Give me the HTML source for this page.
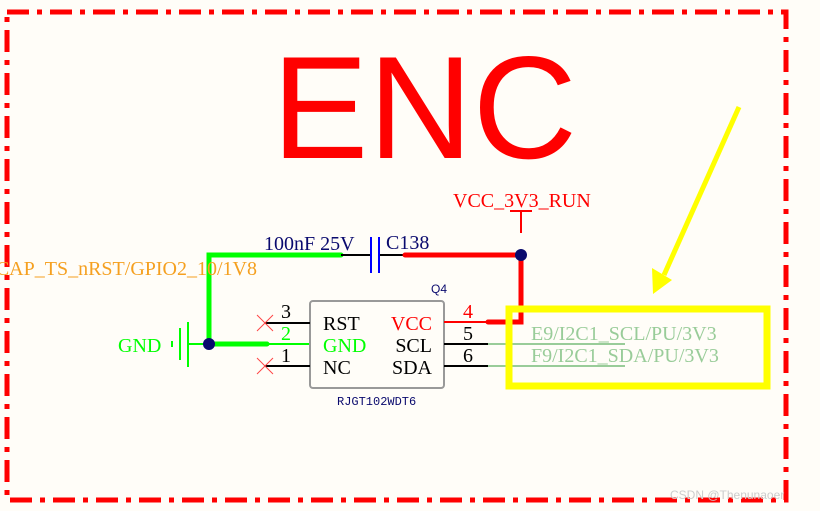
<!DOCTYPE html>
<html><head><meta charset="utf-8"><style>body{margin:0;background:#fffdf8}svg{display:block}</style></head>
<body>
<svg width="820" height="511" xmlns="http://www.w3.org/2000/svg" font-family="Liberation Serif, serif">
<rect width="820" height="511" fill="#fffdf8"/>
<rect x="7" y="12" width="779" height="488" fill="none" stroke="#f00" stroke-width="5" stroke-dasharray="22 8 5 8"/>
<text x="272" y="158" font-family="Liberation Sans, sans-serif" font-size="146" fill="#f00" textLength="305" lengthAdjust="spacingAndGlyphs">ENC</text>
<line x1="739" y1="107" x2="664" y2="275" stroke="#ff0" stroke-width="5"/>
<polygon points="653,294 652,268 672,280" fill="#ff0"/>
<polyline points="341,255 209,255 209,344 267,344" fill="none" stroke="#0f0" stroke-width="5" stroke-linecap="round"/>
<line x1="267" y1="344" x2="310" y2="344" stroke="#0f0" stroke-width="2"/>
<line x1="188" y1="344" x2="209" y2="344" stroke="#0f0" stroke-width="2"/>
<line x1="188" y1="322" x2="188" y2="367" stroke="#0f0" stroke-width="2"/>
<line x1="180" y1="328" x2="180" y2="360" stroke="#0f0" stroke-width="2"/>
<line x1="172" y1="341" x2="172" y2="347" stroke="#0f0" stroke-width="2"/>
<text x="118" y="352" font-size="20" fill="#0f0">GND</text>
<circle cx="209" cy="344" r="6" fill="#0a0a6e"/>
<line x1="341" y1="255" x2="371" y2="255" stroke="#000" stroke-width="2"/>
<line x1="379" y1="255" x2="405" y2="255" stroke="#000" stroke-width="2"/>
<line x1="371" y1="237" x2="371" y2="273" stroke="#00f" stroke-width="2"/>
<line x1="379" y1="237" x2="379" y2="273" stroke="#00f" stroke-width="2"/>
<text x="264" y="250" font-size="20" fill="#0a0a6e">100nF 25V</text>
<text x="386" y="249" font-size="20" fill="#0a0a6e">C138</text>
<polyline points="405,255 521,255 521,322 488,322" fill="none" stroke="#f00" stroke-width="5" stroke-linecap="round"/>
<line x1="521" y1="211" x2="521" y2="233" stroke="#f00" stroke-width="2"/>
<line x1="510" y1="211" x2="532" y2="211" stroke="#f00" stroke-width="2"/>
<text x="453" y="207" font-size="20" fill="#f00">VCC_3V3_RUN</text>
<circle cx="521" cy="255" r="6" fill="#0a0a6e"/>
<text x="257" y="275" font-size="20" fill="#f5a020" text-anchor="end">CAP_TS_nRST/GPIO2_10/1V8</text>
<rect x="310" y="301" width="134" height="87" rx="3" fill="#fffdf8" stroke="#999" stroke-width="2"/>
<text x="431" y="293" font-family="Liberation Sans, sans-serif" font-size="12" fill="#0a0a6e">Q4</text>
<text x="337" y="405" font-family="Liberation Mono, monospace" font-size="12" fill="#0a0a6e">RJGT102WDT6</text>
<line x1="265" y1="323" x2="310" y2="323" stroke="#000" stroke-width="2"/>
<line x1="265" y1="366" x2="310" y2="366" stroke="#000" stroke-width="2"/>
<g stroke="#f44" stroke-width="1">
<line x1="257" y1="315" x2="273" y2="331"/><line x1="257" y1="331" x2="273" y2="315"/>
<line x1="257" y1="358" x2="273" y2="374"/><line x1="257" y1="374" x2="273" y2="358"/>
</g>
<g font-size="20">
<text x="281" y="318">3</text><text x="281" y="340" fill="#0f0">2</text><text x="281" y="362">1</text>
<text x="323" y="330">RST</text><text x="323" y="352" fill="#0f0">GND</text><text x="323" y="374">NC</text>
<text x="432" y="330" fill="#f00" text-anchor="end">VCC</text><text x="432" y="352" text-anchor="end">SCL</text><text x="432" y="374" text-anchor="end">SDA</text>
<text x="463" y="318" fill="#f00">4</text><text x="463" y="340">5</text><text x="463" y="362">6</text>
</g>
<line x1="444" y1="322" x2="488" y2="322" stroke="#f00" stroke-width="2"/>
<line x1="444" y1="344" x2="488" y2="344" stroke="#000" stroke-width="2"/>
<line x1="444" y1="366" x2="488" y2="366" stroke="#000" stroke-width="2"/>
<line x1="488" y1="344" x2="625" y2="344" stroke="#9c9" stroke-width="2"/>
<line x1="488" y1="366" x2="625" y2="366" stroke="#9c9" stroke-width="2"/>
<text x="531" y="340" font-size="20" fill="#9c9">E9/I2C1_SCL/PU/3V3</text>
<text x="531" y="362" font-size="20" fill="#9c9">F9/I2C1_SDA/PU/3V3</text>
<rect x="509" y="309" width="258" height="77" fill="none" stroke="#ff0" stroke-width="7"/>
<text x="670" y="499" font-family="Liberation Sans, sans-serif" font-size="12" fill="#ccc">CSDN @Thenunaoer</text>
</svg>
</body></html>
